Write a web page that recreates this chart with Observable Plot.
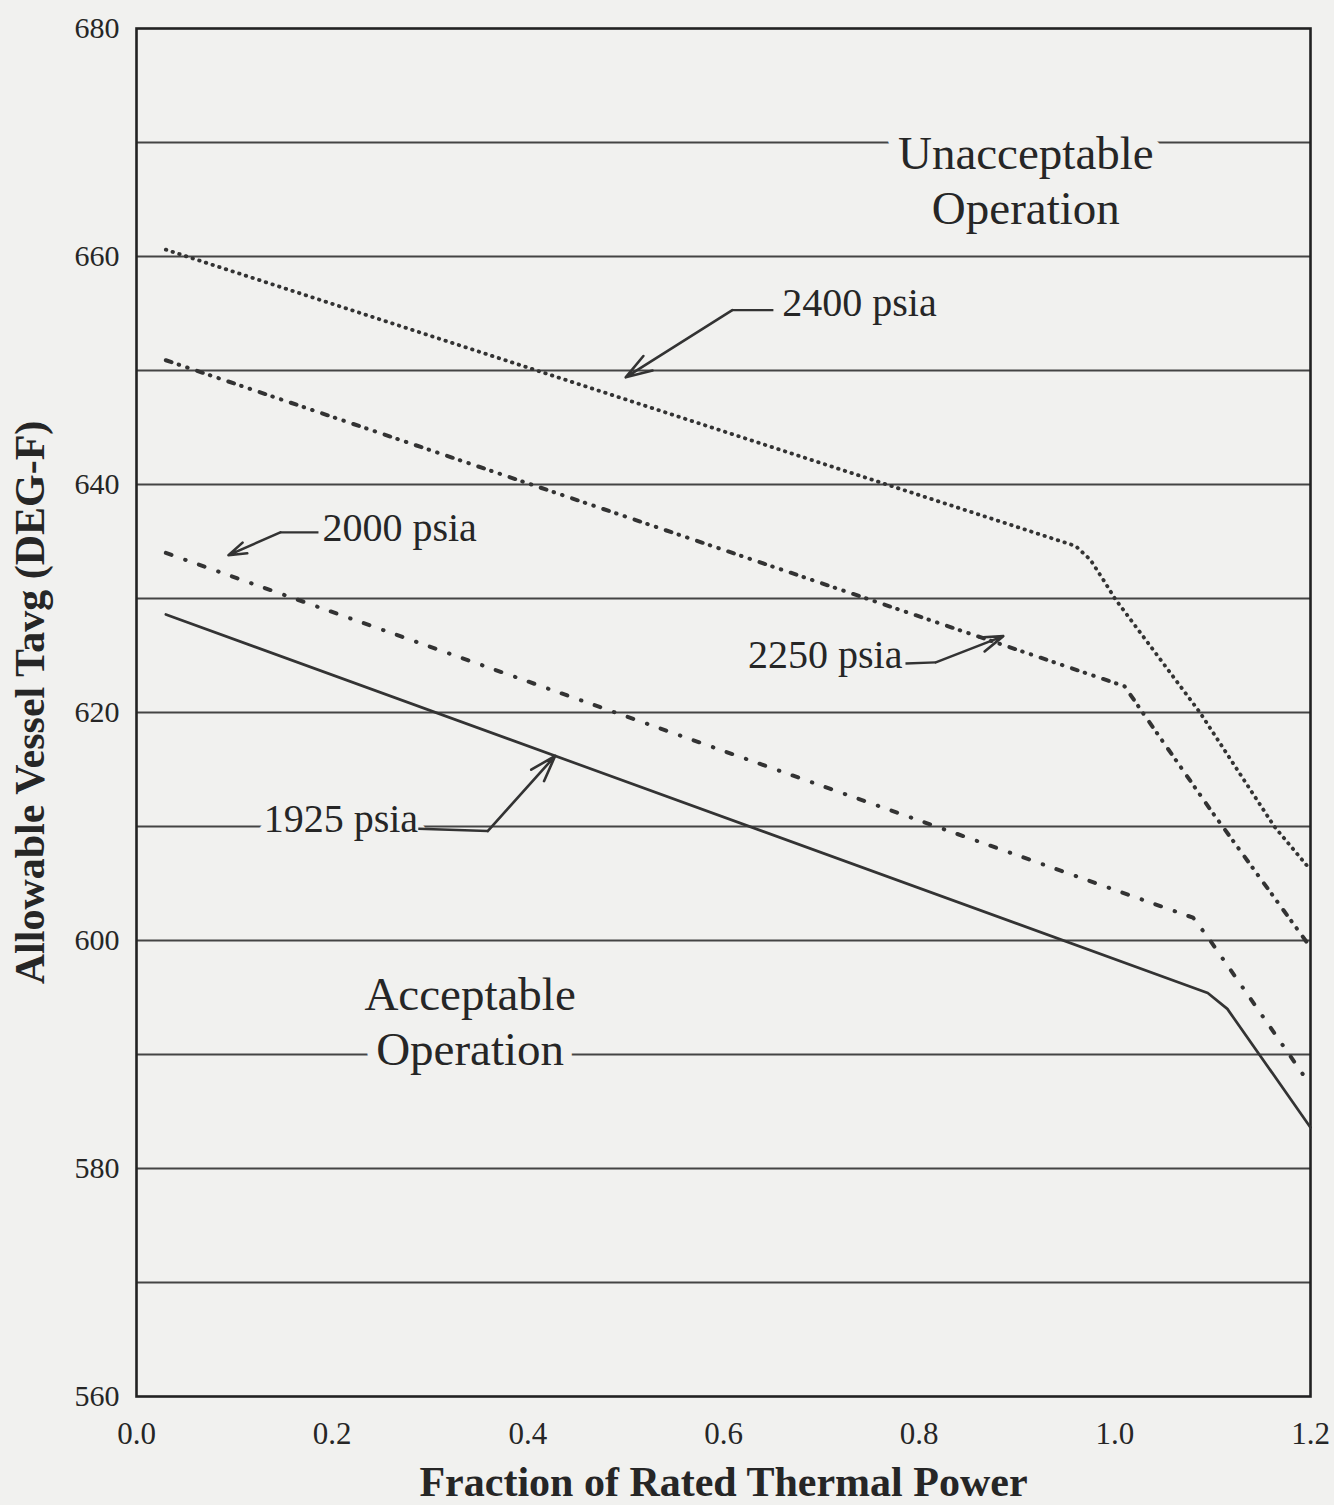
<!DOCTYPE html>
<html>
<head>
<meta charset="utf-8">
<script src="https://cdn.jsdelivr.net/npm/d3@7"></script>
<script src="https://cdn.jsdelivr.net/npm/@observablehq/plot@0.6"></script>
<style>
  html, body { margin: 0; padding: 0; background: #f1f1ef; }
  #chart { width: 1334px; height: 1505px; }
</style>
</head>
<body>
<div id="chart"></div>
<script>
// ---- data ----
const xTicks = [0, 0.2, 0.4, 0.6, 0.8, 1.0, 1.2];
const yTicks = [560, 580, 600, 620, 640, 660, 680];
const yGrid = [570, 580, 590, 600, 610, 620, 630, 640, 650, 660, 670];

const fraction1925 = [0.03, 1.095, 1.115, 1.2];
const temp1925     = [628.6, 595.4, 594.0, 583.6];

const fraction2000 = [0.03, 1.08, 1.095, 1.2];
const temp2000     = [634.0, 602.0, 600.3, 587.3];

const fraction2250 = [0.03, 1.01, 1.03, 1.10, 1.2];
const temp2250     = [650.9, 622.3, 619.8, 611.2, 599.4];

const fraction2400 = [0.03, 0.96, 0.975, 0.99, 1.0, 1.087, 1.163, 1.2];
const temp2400     = [660.6, 634.6, 633.4, 631.4, 630.0, 620.0, 610.0, 606.2];

const regionNames = ["Unacceptable\nOperation", "Acceptable\nOperation"];
const regionFraction = [0.909, 0.341];
const regionTemp = [666.8, 593.0];

const psiaNames = ["2400 psia", "2250 psia", "2000 psia", "1925 psia"];
const psiaFraction = [0.660, 0.625, 0.190, 0.130];
const psiaTemp = [655.9, 625.0, 636.2, 610.6];
// leader lines: start (at text) -> elbow -> arrow tip on the curve
const leaderStartF = [0.651, 0.786, 0.186, 0.288];
const leaderStartT = [655.3, 624.3, 635.8, 609.8];
const leaderElbowF = [0.609, 0.817, 0.147, 0.359];
const leaderElbowT = [655.3, 624.4, 635.8, 609.6];
const leaderTipF   = [0.500, 0.886, 0.094, 0.428];
const leaderTipT   = [649.4, 626.7, 633.8, 616.2];

// ---- build tables ----
const toRows = (xs, ys) => xs.map((x, i) => ({fraction: x, temp: ys[i]}));
const s1925 = toRows(fraction1925, temp1925);
const s2000 = toRows(fraction2000, temp2000);
const s2250 = toRows(fraction2250, temp2250);
const s2400 = toRows(fraction2400, temp2400);
const regions = regionNames.map((t, i) => ({text: t, fraction: regionFraction[i], temp: regionTemp[i]}));
const psia = psiaNames.map((t, i) => ({text: t, fraction: psiaFraction[i], temp: psiaTemp[i]}));
const leaders = psiaNames.map((t, i) => ({
  sx: leaderStartF[i], sy: leaderStartT[i],
  ex: leaderElbowF[i], ey: leaderElbowT[i],
  tx: leaderTipF[i], ty: leaderTipT[i]
}));

const BG = "#f1f1ef";
const INK = "#262626";
const SERIF = "'Liberation Serif', 'Times New Roman', serif";

const chart = Plot.plot({
  width: 1334,
  height: 1505,
  marginLeft: 136,
  marginRight: 24,
  marginTop: 28,
  marginBottom: 109,
  style: {background: BG, color: INK, fontFamily: SERIF, fontSize: "30px"},
  x: {domain: [0, 1.2], label: null},
  y: {domain: [560, 680], label: null},
  marks: [
    Plot.ruleY(yGrid, {stroke: "#444", strokeWidth: 1.9}),
    Plot.frame({stroke: "#222", strokeWidth: 2.6}),
    Plot.axisX({ticks: xTicks, tickSize: 0, tickPadding: 25, tickFormat: d3.format(".1f"), fontSize: 31, label: null}),
    Plot.axisY({ticks: yTicks, tickSize: 0, tickPadding: 17, fontSize: 30, label: null}),
    Plot.text(["Fraction of Rated Thermal Power"], {frameAnchor: "bottom", lineAnchor: "middle", textAnchor: "middle", dy: 86, fontSize: 42, fontWeight: "bold", fill: INK}),
    Plot.text(["Allowable Vessel Tavg (DEG-F)"], {frameAnchor: "left", lineAnchor: "middle", textAnchor: "middle", rotate: -90, dx: -106, dy: -10, fontSize: 42, fontWeight: "bold", fill: INK}),
    // curves
    Plot.line(s1925, {x: "fraction", y: "temp", stroke: "#333", strokeWidth: 2.7}),
    Plot.line(s2000, {x: "fraction", y: "temp", stroke: "#333", strokeWidth: 4, strokeLinecap: "round", strokeDasharray: "6,14.5,0.5,14"}),
    Plot.line(s2250, {x: "fraction", y: "temp", stroke: "#333", strokeWidth: 4, strokeLinecap: "round", strokeDasharray: "6,7.5,0.5,8.5,0.5,10"}),
    Plot.line(s2400, {x: "fraction", y: "temp", stroke: "#333", strokeWidth: 3.8, strokeLinecap: "round", strokeDasharray: "0.5,6.5"}),
    // region labels
    Plot.text(regions, {x: "fraction", y: "temp", text: "text", fontSize: 47, lineHeight: 1.17, fill: INK, stroke: BG, strokeWidth: 22, paintOrder: "stroke"}),
    // psia labels + leaders
    Plot.text(psia, {x: "fraction", y: "temp", text: "text", textAnchor: "start", fontSize: 40, fill: INK, stroke: BG, strokeWidth: 16, paintOrder: "stroke"}),
    Plot.link(leaders, {x1: "sx", y1: "sy", x2: "ex", y2: "ey", stroke: "#333", strokeWidth: 2.4}),
    Plot.arrow(leaders, {x1: "ex", y1: "ey", x2: "tx", y2: "ty", stroke: "#333", strokeWidth: 2.6, headLength: 16, headAngle: 36})
  ]
});
document.getElementById("chart").appendChild(chart);
</script>
</body>
</html>
